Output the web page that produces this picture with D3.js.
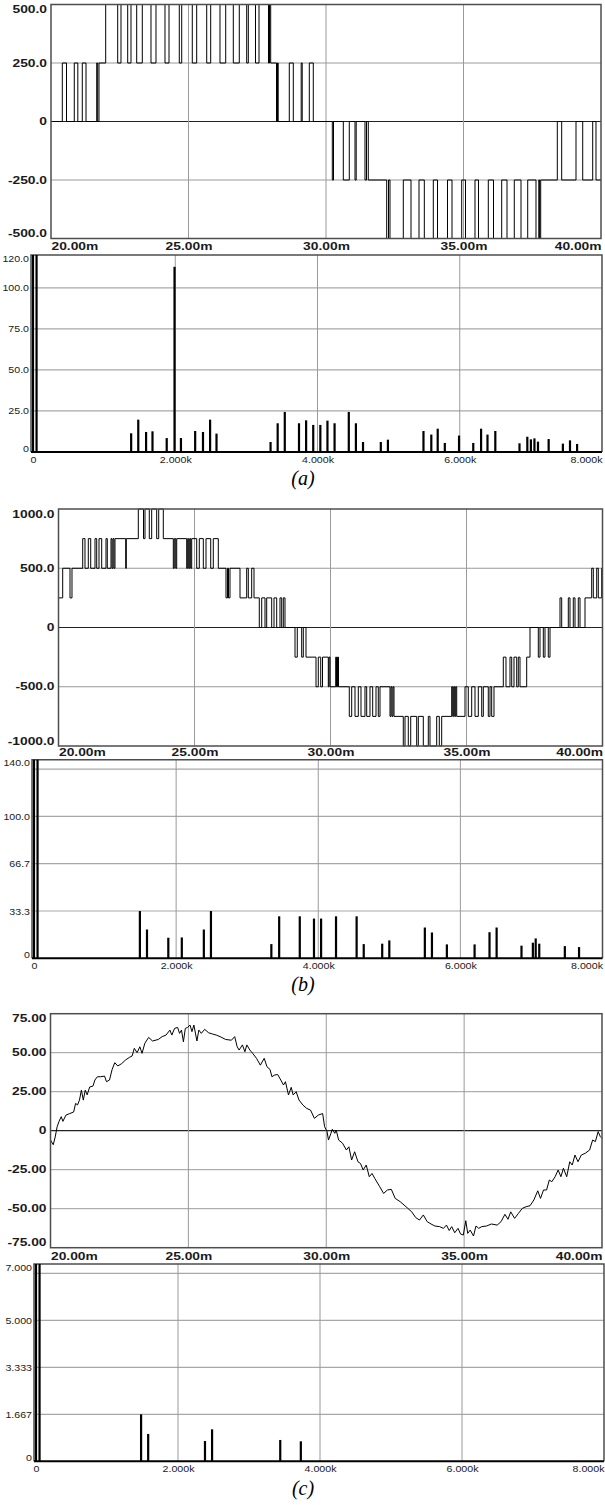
<!doctype html>
<html>
<head>
<style>
  body { margin: 0; background: #fff; }
  .frame { fill: none; stroke: #4d4d4d; stroke-width: 1.5; }
  .vgrid { stroke: #9a9a9a; stroke-width: 1; }
  .hgrid { stroke: #a8a8a8; stroke-width: 1.2; }
  .zero { stroke: #222; stroke-width: 1.2; }
  .trace { fill: none; stroke: #000; stroke-width: 1; }
  .bar { fill: #000; }
  .caption { font-family: "Liberation Serif", "Times New Roman", serif; font-style: italic; font-size: 20px; }
</style>
<script src="https://d3js.org/d3.v7.min.js"></script>
</head>
<body>
<svg width="605" height="1505"></svg>
<script>

// ---- shared tick sets
var timeTicks = [20, 25, 30, 35, 40];
var timeTickLabels = ["20.00m", "25.00m", "30.00m", "35.00m", "40.00m"];
var freqTicks = [0, 2000, 4000, 6000, 8000];
var freqTickLabels = ["0", "2.000k", "4.000k", "6.000k", "8.000k"];

// ---- (a) output voltage, [time ms, level] switching points
var aYTicks = [-500, -250, 0, 250, 500];
var aYLabels = ["-500.0", "-250.0", "0", "250.0", "500.0"];
var aWave = [
  [20, 0], [20.411, 250], [20.564, 0], [20.847, 250], [20.975, 0], [21.138, 250], [21.273, 0],
  [21.662, 250], [21.698, 0], [21.745, 250],
  [21.989, 500],
  [22.425, 250], [22.545, 500], [22.789, 250], [22.909, 500], [23.116, 250], [23.320, 500],
  [23.636, 250], [23.818, 500], [24.145, 250], [24.291, 500], [24.665, 250], [24.753, 500],
  [25.138, 250], [25.298, 500], [25.662, 250], [25.807, 500], [26.145, 250], [26.353, 500],
  [26.629, 250], [26.847, 500], [27.116, 250], [27.175, 500], [27.436, 250], [27.564, 500],
  [27.909, 250], [27.945, 500], [27.989, 250],
  [28.200, 0], [28.236, 250], [28.262, 0], [28.665, 250], [28.811, 0], [29.098, 250],
  [29.135, 0], [29.393, 250], [29.538, 0],
  [30.229, -250], [30.273, 0], [30.629, -250], [30.847, 0], [31.055, -250], [31.098, 0],
  [31.418, -250], [31.473, 0], [31.538, -250],
  [32.207, -500], [32.273, -250], [32.327, -500], [32.811, -250], [33.091, -500], [33.382, -250],
  [33.575, -500], [33.902, -250], [34.055, -500], [34.418, -250], [34.582, -500], [34.935, -250],
  [35.073, -500], [35.418, -250], [35.545, -500], [35.902, -250], [36.091, -500], [36.389, -250],
  [36.582, -500], [36.847, -250], [37.091, -500], [37.335, -250], [37.636, -500], [37.738, -250],
  [37.767, -500], [37.807, -250],
  [38.411, 0], [38.571, -250], [39.091, 0], [39.335, -250], [39.698, 0], [39.818, -250], [40, -250]
];
// (a) spectrum, Hz and amplitude
var aFreq = [0, 50, 1380, 1480, 1590, 1680, 1880, 1990, 2080, 2280, 2390, 2490, 2580,
  3340, 3440, 3540, 3740, 3840, 3940, 4040, 4140, 4240, 4440, 4540, 4640, 4890, 4990,
  5490, 5600, 5690, 5790, 5990, 6190, 6300, 6390, 6500, 6840, 6950, 7000, 7050, 7100,
  7250, 7450, 7550, 7650];
var aAmp = [150, 400, 11.4, 19.7, 12.2, 12.6, 8.5, 112.8, 8.5, 12.8, 12.2, 19.7, 11.2,
  6.1, 17.5, 24.4, 17.5, 19.3, 16.5, 16.5, 19.1, 17.5, 24.4, 17.5, 6.1, 6.1, 7.5,
  12.8, 10.6, 14.2, 5.5, 10.0, 5.5, 14.2, 10.6, 12.8, 5.3, 9.3, 7.7, 8.3, 6.3,
  7.9, 5.1, 7.1, 4.9];
var aAmpTicks = [0, 25, 50, 75, 100, 120];
var aAmpLabels = ["0", "25.0", "50.0", "75.0", "100.0", "120.0"];
var aAmpGrid = [25, 50, 75, 100];

// ---- (b) output voltage
var bYTicks = [-1000, -500, 0, 500, 1000];
var bYLabels = ["-1000.0", "-500.0", "0", "500.0", "1000.0"];
var bWave = [
  [20, 250], [20.154, 500], [20.423, 250], [20.496, 500],
  [20.890, 750], [20.974, 500], [21.096, 750], [21.184, 500], [21.342, 750], [21.404, 500],
  [21.489, 750], [21.588, 500], [21.746, 750], [21.794, 500], [21.930, 750], [21.967, 500],
  [22.004, 750], [22.040, 500], [22.077, 750], [22.471, 500], [22.493, 750],
  [22.934, 1000], [23.125, 750], [23.180, 1000], [23.338, 750], [23.426, 1000], [23.610, 750],
  [23.684, 1000], [23.853, 750],
  [24.221, 500], [24.257, 750], [24.309, 500], [24.346, 750],
  [24.713, 500], [24.750, 750], [24.787, 500], [24.824, 750], [24.860, 500], [24.897, 750],
  [25.081, 500], [25.176, 750], [25.324, 500], [25.423, 750], [25.596, 500], [25.691, 750], [25.875, 500],
  [26.158, 250], [26.213, 500], [26.250, 250], [26.305, 500],
  [26.673, 250], [26.919, 500], [26.978, 250], [27.103, 500], [27.188, 250],
  [27.382, 0], [27.471, 250], [27.592, 0], [27.654, 250], [27.838, 0], [27.923, 250],
  [28.022, 0], [28.143, 250], [28.206, 0], [28.265, 250], [28.327, 0],
  [28.695, -250], [28.779, 0], [28.941, -250], [29.000, 0], [29.099, -250],
  [29.467, -500], [29.551, -250], [29.640, -500], [29.706, -250], [29.919, -500], [29.945, -250],
  [29.982, -500], [30.191, -250], [30.221, -500], [30.257, -250], [30.294, -500],
  [30.691, -750], [30.779, -500], [30.901, -750], [31.022, -500], [31.121, -750], [31.268, -500],
  [31.331, -750], [31.452, -500], [31.551, -750], [31.673, -500], [31.757, -750], [31.820, -500],
  [32.188, -750], [32.224, -500], [32.261, -750], [32.298, -500], [32.335, -750],
  [32.676, -1000], [32.739, -750], [32.860, -1000], [32.949, -750], [33.169, -1000], [33.228, -750],
  [33.412, -1000], [33.596, -750], [33.658, -1000], [33.904, -750], [34.000, -1000], [34.088, -750],
  [34.456, -500], [34.493, -750], [34.529, -500], [34.566, -750], [34.603, -500], [34.640, -750],
  [34.945, -500], [35.066, -750], [35.191, -500], [35.313, -750], [35.434, -500], [35.559, -750],
  [35.618, -500], [35.801, -750], [35.864, -500], [35.926, -750], [36.011, -500],
  [36.353, -250], [36.452, -500], [36.599, -250], [36.662, -500], [36.746, -250], [36.846, -500],
  [36.904, -250], [36.967, -500], [37.213, -250],
  [37.335, 0], [37.640, -250], [37.702, 0], [37.824, -250], [37.886, 0], [38.007, -250], [38.070, 0],
  [38.438, 250], [38.500, 0], [38.743, 250], [38.805, 0], [38.926, 250], [38.989, 0],
  [39.110, 250], [39.173, 0], [39.357, 250],
  [39.603, 500], [39.662, 250], [39.787, 500], [39.846, 250], [39.971, 500], [40, 500]
];
var bFreq = [0, 50, 1490, 1590, 1890, 2080, 2390, 2490, 3340, 3450, 3740, 3940, 4040, 4250,
  4540, 4640, 4900, 5000, 5500, 5600, 5810, 6200, 6410, 6510, 6860, 7020, 7060, 7110, 7470, 7670];
var bAmp = [300, 600, 33.3, 20.3, 14.5, 14.7, 20.3, 33.3, 10, 29.6, 29.6, 28, 28, 29.6,
  29.6, 10, 10.3, 12.6, 21.7, 18.2, 9.8, 9.8, 18.4, 21.7, 8.9, 11, 14, 10.3, 8.6, 7.9];
var bAmpTicks = [0, 33.33, 66.67, 100, 140];
var bAmpLabels = ["0", "33.3", "66.7", "100.0", "140.0"];
var bAmpGrid = [33.33, 66.67, 100, 133.33];

// ---- (c) output current
var cYTicks = [-75, -50, -25, 0, 25, 50, 75];
var cYLabels = ["-75.00", "-50.00", "-25.00", "0", "25.00", "50.00", "75.00"];
var cWave = [
  [20.00, -6], [20.10, -9], [20.17, -4], [20.24, 2.5], [20.31, 6], [20.39, 9], [20.45, 6],
  [20.56, 10], [20.70, 11], [20.84, 12], [20.91, 17.5], [20.98, 16.5], [21.05, 19.6], [21.12, 26],
  [21.19, 19.6], [21.26, 26], [21.33, 23], [21.42, 28], [21.54, 28.6], [21.61, 32.5], [21.70, 34.6],
  [21.82, 34.6], [21.96, 35], [22.03, 31.4], [22.14, 32.5], [22.23, 39], [22.33, 43.6], [22.44, 41.5],
  [22.58, 43], [22.72, 45.3], [22.86, 47], [22.96, 47.9], [23.04, 52.8], [23.14, 50], [23.24, 53.8],
  [23.32, 49.6], [23.42, 56], [23.56, 59.8], [23.70, 57.5], [23.91, 58.5], [24.05, 60.3], [24.19, 61.3],
  [24.33, 64.5], [24.40, 61.3], [24.50, 65.6], [24.61, 66.2], [24.68, 62.4], [24.75, 64.5], [24.82, 57],
  [24.89, 65.6], [24.97, 66.2], [25.06, 67.7], [25.13, 63.5], [25.20, 67.7], [25.31, 57.5], [25.38, 64.5],
  [25.47, 62.4], [25.59, 65], [25.73, 62.8], [25.87, 62], [26.01, 61.3], [26.15, 60.3], [26.35, 58.5],
  [26.56, 58], [26.68, 60.3], [26.77, 53.8], [26.84, 51.7], [26.96, 55], [27.05, 50.6], [27.12, 55],
  [27.23, 51.7], [27.33, 49.6], [27.47, 46.4], [27.61, 42], [27.75, 46.4], [27.85, 41], [27.96, 39.3],
  [28.03, 34.6], [28.13, 35.7], [28.24, 36], [28.35, 32.5], [28.45, 29.3], [28.52, 31.4], [28.63, 22.9],
  [28.73, 27.8], [28.80, 22.9], [28.91, 25], [29.01, 19.7], [29.15, 16.5], [29.29, 14.3], [29.43, 13.2],
  [29.57, 7.9], [29.71, 10], [29.87, 11], [29.94, 2.6], [30.03, -0.6], [30.08, -6], [30.17, -1.7],
  [30.22, 0.9], [30.31, -1.7], [30.36, 0.4], [30.45, -6], [30.59, -8], [30.73, -12.4], [30.82, -10.3],
  [30.92, -18.8], [31.03, -13.5], [31.15, -19.9], [31.24, -21], [31.34, -25.2], [31.45, -22], [31.56, -29.5],
  [31.66, -27.4], [31.76, -30.6], [31.94, -35.9], [32.08, -40.2], [32.22, -38], [32.36, -37.6], [32.50, -43.4],
  [32.68, -45.5], [32.82, -47.6], [32.96, -49.8], [33.10, -52], [33.24, -55.6], [33.38, -57.3], [33.52, -54],
  [33.66, -58.3], [33.80, -59.8], [33.94, -61.1], [34.11, -61.5], [34.25, -62.6], [34.36, -60.5], [34.46, -64],
  [34.55, -61.5], [34.66, -65.4], [34.78, -62.6], [34.87, -66.2], [34.97, -66.9], [35.06, -57.7], [35.13, -65.8],
  [35.22, -63.7], [35.34, -67.5], [35.43, -61.1], [35.53, -62.6], [35.64, -61.5], [35.81, -61.1], [35.99, -59.8],
  [36.20, -60.5], [36.34, -58.3], [36.48, -53.6], [36.59, -56.8], [36.69, -52], [36.83, -56.2], [36.97, -53],
  [37.11, -49.8], [37.25, -48.7], [37.39, -48.1], [37.53, -44.4], [37.67, -38.5], [37.77, -43.4], [37.88, -38],
  [37.99, -38], [38.09, -31.6], [38.18, -32.7], [38.30, -29.5], [38.41, -25.2], [38.51, -29.5], [38.60, -24.1],
  [38.72, -29.5], [38.83, -19.9], [38.92, -22], [39.02, -15.6], [39.13, -19.9], [39.25, -15.6], [39.39, -14.5],
  [39.55, -12.4], [39.66, -6], [39.76, -7], [39.86, -0.6], [39.94, -3.8], [40.00, -4.9]
];
var cFreq = [0, 50, 1480, 1580, 2380, 2480, 3440, 3730];
var cAmp = [20, 60, 1.667, 0.97, 0.72, 1.135, 0.757, 0.71];
var cAmpTicks = [0, 1.667, 3.333, 5, 7];
var cAmpLabels = ["0", "1.667", "3.333", "5.000", "7.000"];
var cAmpGrid = [1.667, 3.333, 5, 6.667];

var svg = d3.select("svg");

// labels in the source are horizontally stretched
function styleLabels(sel, size, weight, k) {
  sel.attr("font-family", '"Liberation Sans", Arial, sans-serif')
     .attr("font-size", size)
     .attr("font-weight", weight)
     .attr("fill", "#1a1a1a");
  sel.each(function() {
    var t = d3.select(this);
    t.attr("x", (+t.attr("x") || 0) / k).attr("transform", "scale(" + k + ",1)");
  });
}

function drawTime(p) {
  var x = d3.scaleLinear().domain([20, 40]).range([p.left, p.right]);
  var y = d3.scaleLinear().domain(d3.extent(p.yTicks)).range([p.bottom, p.top]);
  var yMin = d3.min(p.yTicks), yMax = d3.max(p.yTicks);
  var g = svg.append("g");

  g.selectAll(".hg").data(p.yTicks.filter(function(d) { return d > yMin && d < yMax; }))
    .enter().append("line")
    .attr("class", function(d) { return d === 0 ? "zero" : "vgrid"; })
    .attr("x1", p.left).attr("x2", p.right)
    .attr("y1", function(d) { return y(d); }).attr("y2", function(d) { return y(d); });

  g.selectAll(".vg").data(timeTicks.slice(1, -1))
    .enter().append("line")
    .attr("class", "vgrid")
    .attr("x1", function(d) { return x(d); }).attr("x2", function(d) { return x(d); })
    .attr("y1", p.top).attr("y2", p.bottom);

  var line = d3.line()
    .curve(p.step ? d3.curveStepAfter : d3.curveLinear)
    .x(function(d) { return x(d[0]); })
    .y(function(d) { return y(d[1]); });

  g.append("path").datum(p.wave).attr("class", "trace").attr("d", line);

  g.append("rect").attr("class", "frame")
    .attr("x", p.left).attr("y", p.top)
    .attr("width", p.right - p.left).attr("height", p.bottom - p.top);

  var ya = g.append("g").attr("transform", "translate(" + p.left + ",0)")
    .call(d3.axisLeft(y).tickValues(p.yTicks).tickSize(0).tickPadding(4)
      .tickFormat(function(d, i) { return p.yLabels[i]; }));
  ya.select(".domain").remove();
  ya.selectAll("text")
    .attr("dy", function(d) { return d === yMax ? 8.2 : d === yMin ? -1.8 : 3.2; });
  styleLabels(ya.selectAll("text"), 10, "bold", 1.38);

  var xa = g.append("g").attr("transform", "translate(0," + p.bottom + ")")
    .call(d3.axisBottom(x).tickValues(timeTicks).tickSize(0)
      .tickFormat(function(d, i) { return timeTickLabels[i]; }));
  xa.select(".domain").remove();
  xa.selectAll("text").attr("y", p.labelY).attr("dy", 0)
    .attr("text-anchor", function(d, i) { return i === 0 ? "start" : i === timeTicks.length - 1 ? "end" : "middle"; });
  styleLabels(xa.selectAll("text"), 10, "bold", 1.38);
}

function drawSpectrum(p) {
  var x = d3.scaleLinear().domain([0, 8000]).range([p.x0, p.right]);
  var yTop = d3.max(p.yTicks);
  var y = d3.scaleLinear().domain([0, yTop]).range([p.bottom, p.top]).clamp(true);
  var g = svg.append("g");

  g.selectAll(".hg").data(p.grid).enter().append("line")
    .attr("class", "hgrid")
    .attr("x1", p.left).attr("x2", p.right)
    .attr("y1", function(d) { return y(d); }).attr("y2", function(d) { return y(d); });

  g.selectAll(".vg").data(freqTicks.slice(1, -1)).enter().append("line")
    .attr("class", "vgrid")
    .attr("x1", function(d) { return x(d); }).attr("x2", function(d) { return x(d); })
    .attr("y1", p.top).attr("y2", p.bottom);

  // frame: top, left, right; bottom is the heavy zero axis
  g.append("path").attr("class", "frame")
    .attr("d", "M" + p.left + "," + p.bottom + "V" + p.top + "H" + p.right + "V" + p.bottom);

  g.selectAll(".bar").data(d3.zip(p.freq, p.amp)).enter().append("rect")
    .attr("class", "bar")
    .attr("x", function(d) { return x(d[0]) - 1.1; })
    .attr("width", 2.2)
    .attr("y", function(d) { return y(d[1]); })
    .attr("height", function(d) { return p.bottom - y(d[1]); });

  g.append("line").attr("x1", p.left).attr("x2", p.right)
    .attr("y1", p.bottom).attr("y2", p.bottom)
    .attr("stroke", "#000").attr("stroke-width", 2);

  var ya = g.append("g").attr("transform", "translate(" + p.left + ",0)")
    .call(d3.axisLeft(y).tickValues(p.yTicks).tickSize(0).tickPadding(2)
      .tickFormat(function(d, i) { return p.yLabels[i]; }));
  ya.select(".domain").remove();
  ya.selectAll("text")
    .attr("dy", function(d) { return d === yTop ? 6 : d === 0 ? -1 : 3; });
  styleLabels(ya.selectAll("text"), 9.5, "normal", 1.12);

  var xa = g.append("g").attr("transform", "translate(0," + p.bottom + ")")
    .call(d3.axisBottom(x).tickValues(freqTicks).tickSize(0)
      .tickFormat(function(d, i) { return freqTickLabels[i]; }));
  xa.select(".domain").remove();
  xa.selectAll("text").attr("y", 10.8).attr("dy", 0)
    .attr("text-anchor", function(d, i) { return i === freqTicks.length - 1 ? "end" : "middle"; });
  styleLabels(xa.selectAll("text"), 9.5, "normal", 1.12);
}

drawTime({ left: 51, right: 601, top: 4.5, bottom: 238.5, yTicks: aYTicks, yLabels: aYLabels,
  wave: aWave, step: true, labelY: 11.5 });
drawSpectrum({ left: 31, x0: 33, right: 602, top: 255, bottom: 452, yTicks: aAmpTicks,
  yLabels: aAmpLabels, grid: aAmpGrid, freq: aFreq, amp: aAmp });

drawTime({ left: 58.5, right: 602.5, top: 509, bottom: 746, yTicks: bYTicks, yLabels: bYLabels,
  wave: bWave, step: true, labelY: 9.7 });
drawSpectrum({ left: 32, x0: 34, right: 602.5, top: 759.7, bottom: 958.3, yTicks: bAmpTicks,
  yLabels: bAmpLabels, grid: bAmpGrid, freq: bFreq, amp: bAmp });

drawTime({ left: 50.5, right: 602, top: 1013.7, bottom: 1247.7, yTicks: cYTicks, yLabels: cYLabels,
  wave: cWave, step: false, labelY: 12.3 });
drawSpectrum({ left: 34, x0: 36, right: 604, top: 1264, bottom: 1461.3, yTicks: cAmpTicks,
  yLabels: cAmpLabels, grid: cAmpGrid, freq: cFreq, amp: cAmp });

// sub-figure captions
var captions = [["(a)", 485], ["(b)", 991], ["(c)", 1495]];
svg.selectAll(".caption").data(captions).enter().append("text")
  .attr("class", "caption")
  .attr("x", 303)
  .attr("y", function(d) { return d[1]; })
  .attr("text-anchor", "middle")
  .text(function(d) { return d[0]; });

</script>
</body>
</html>
